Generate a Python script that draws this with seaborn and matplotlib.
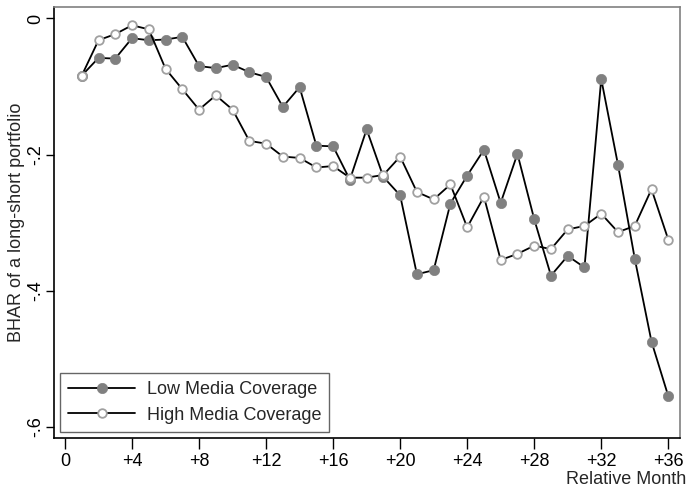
import matplotlib
matplotlib.use("Agg")
import matplotlib.pyplot as plt
import seaborn as sns
import pandas as pd

# Relative month after the event
months = list(range(1, 37))

# BHAR of the long-short portfolio
low_media = [-0.084, -0.058, -0.059, -0.029, -0.032, -0.031, -0.027, -0.070, -0.073,
             -0.068, -0.079, -0.086, -0.130, -0.101, -0.187, -0.188, -0.237, -0.163,
             -0.233, -0.260, -0.376, -0.370, -0.272, -0.231, -0.193, -0.271, -0.199,
             -0.295, -0.378, -0.349, -0.366, -0.089, -0.215, -0.353, -0.475, -0.555]
high_media = [-0.084, -0.032, -0.023, -0.010, -0.016, -0.074, -0.104, -0.134, -0.113,
              -0.134, -0.180, -0.184, -0.203, -0.205, -0.219, -0.217, -0.234, -0.234,
              -0.230, -0.203, -0.255, -0.266, -0.244, -0.307, -0.262, -0.355, -0.346,
              -0.334, -0.339, -0.310, -0.305, -0.287, -0.314, -0.305, -0.251, -0.325]

xtick_vals = [0, 4, 8, 12, 16, 20, 24, 28, 32, 36]
xtick_labels = ["0", "+4", "+8", "+12", "+16", "+20", "+24", "+28", "+32", "+36"]
ytick_vals = [0, -0.2, -0.4, -0.6]
ytick_labels = ["0", "-.2", "-.4", "-.6"]


def main():
    df = pd.DataFrame({"month": months, "low": low_media, "high": high_media})

    sns.set_style("ticks")
    plt.rcParams["font.family"] = ["Liberation Sans", "DejaVu Sans"]

    fig = plt.figure(figsize=(6.87, 4.88), dpi=100)
    ax = fig.add_axes([0.0786, 0.1031, 0.9112, 0.8832])

    # Low media coverage: filled gray dots
    sns.lineplot(data=df, x="month", y="low", ax=ax, color="black", lw=1.3,
                 marker="o", markersize=7.4, markerfacecolor="#808080",
                 markeredgecolor="#808080", markeredgewidth=0.5,
                 label="Low Media Coverage")
    # High media coverage: hollow light gray circles
    sns.lineplot(data=df, x="month", y="high", ax=ax, color="black", lw=1.3,
                 marker="o", markersize=6.2, markerfacecolor="white",
                 markeredgecolor="#a0a0a0", markeredgewidth=1.3,
                 label="High Media Coverage")

    ax.set_xlim(-0.656, 36.70)
    ax.set_ylim(-0.6162, 0.0173)

    ax.set_xticks(xtick_vals)
    ax.set_xticklabels(xtick_labels, fontsize=13)
    ax.set_yticks(ytick_vals)
    ax.set_yticklabels(ytick_labels, fontsize=13, rotation=90, va="center")
    ax.tick_params(axis="x", length=8, width=1, pad=3, colors="black")
    ax.tick_params(axis="y", length=6, width=1, pad=1, colors="black")

    ax.set_ylabel("BHAR of a long-short portfolio", fontsize=13)
    ax.yaxis.set_label_coords(-0.046, 0.5)
    ax.set_xlabel("Relative Month", fontsize=13, ha="right", va="top")
    ax.xaxis.set_label_coords(1.0096, -0.078)

    # Stata-like frame: black axis lines, gray plot region outline
    for side in ["left", "bottom"]:
        ax.spines[side].set_color("black")
        ax.spines[side].set_linewidth(1.2)
    for side in ["top", "right"]:
        ax.spines[side].set_visible(True)
        ax.spines[side].set_color("#808080")
        ax.spines[side].set_linewidth(1.2)

    leg = ax.legend(loc="lower left", bbox_to_anchor=(0.0096, 0.0139),
                    borderaxespad=0, fontsize=13, frameon=True, fancybox=False,
                    handlelength=3.7, handletextpad=0.65, borderpad=0.45,
                    labelspacing=0.45, edgecolor="#404040")
    leg.get_frame().set_linewidth(1.0)

    fig.savefig("out.png", dpi=100)


if __name__ == "__main__":
    main()
